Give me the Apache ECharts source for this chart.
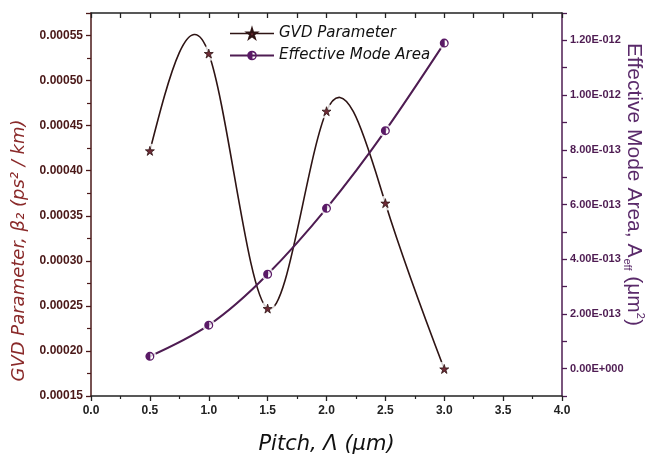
<!DOCTYPE html>
<html><head><meta charset="utf-8">
<script src="https://cdn.jsdelivr.net/npm/echarts@6/dist/echarts.min.js"></script>
<style>html,body{margin:0;padding:0;background:#fff;overflow:hidden;width:650px;height:455px}#c{width:650px;height:455px}</style>
</head><body><div id="c"></div>
<script>
const pitch = [0.5, 1.0, 1.5, 2.0, 2.5, 3.0];
const gvd = [0.000422, 0.000530, 0.000247, 0.000466, 0.000364, 0.000180];
const area = [4.5e-14, 1.59e-13, 3.45e-13, 5.86e-13, 8.70e-13, 1.19e-12];
const xTickLabels = ['0.0','0.5','1.0','1.5','2.0','2.5','3.0','3.5','4.0'];
const leftTickLabels = ['0.00015','0.00020','0.00025','0.00030','0.00035','0.00040','0.00045','0.00050','0.00055'];
const rightTickLabels = ['0.00E+000','2.00E-013','4.00E-013','6.00E-013','8.00E-013','1.00E-012','1.20E-012'];

const gvdData = pitch.map((p, i) => [p, gvd[i]]);
const areaData = pitch.map((p, i) => [p, area[i]]);

const STAR = 'path://M50,0 L61,35 L98,35 L68,57 L79,91 L50,70 L21,91 L32,57 L2,35 L39,35 Z';
const HALF = 'path://M10,0 A10,10 0 0,1 10,20 A10,10 0 0,1 10,0 Z M11,3 L11,17 A7.07,7.07 0 0,0 11,3 Z';

const maroon = '#4a1818', purple = '#4e1c52', gvdLine = '#2e1414';

// Natural cubic spline drawn as bezier segments between the library-projected data points
function splineRender(data, color, width) {
  return function (params, api) {
    if (params.dataIndex !== 0) return null;
    const P = data.map(d => api.coord(d));
    const n = P.length;
    const h = [], M = new Array(n).fill(0);
    for (let i = 0; i < n - 1; i++) h.push(P[i + 1][0] - P[i][0]);
    const a = [], b = [], c = [], d = [];
    for (let i = 1; i < n - 1; i++) {
      a.push(h[i - 1]); b.push(2 * (h[i - 1] + h[i])); c.push(h[i]);
      d.push(6 * ((P[i + 1][1] - P[i][1]) / h[i] - (P[i][1] - P[i - 1][1]) / h[i - 1]));
    }
    const m = b.length;
    for (let i = 1; i < m; i++) {
      const w = a[i] / b[i - 1];
      b[i] -= w * c[i - 1]; d[i] -= w * d[i - 1];
    }
    const sol = new Array(m);
    for (let i = m - 1; i >= 0; i--) sol[i] = (d[i] - (i < m - 1 ? c[i] * sol[i + 1] : 0)) / b[i];
    for (let i = 0; i < m; i++) M[i + 1] = sol[i];
    const children = [];
    for (let i = 0; i < n - 1; i++) {
      const hi = h[i];
      const dy = (P[i + 1][1] - P[i][1]) / hi;
      const s0 = dy - hi * (2 * M[i] + M[i + 1]) / 6;
      const s1 = dy + hi * (M[i] + 2 * M[i + 1]) / 6;
      children.push({
        type: 'bezierCurve',
        shape: {
          x1: P[i][0], y1: P[i][1], x2: P[i + 1][0], y2: P[i + 1][1],
          cpx1: P[i][0] + hi / 3, cpy1: P[i][1] + s0 * hi / 3,
          cpx2: P[i + 1][0] - hi / 3, cpy2: P[i + 1][1] - s1 * hi / 3
        },
        style: { stroke: color, lineWidth: width, fill: null }
      });
    }
    return { type: 'group', children: children };
  };
}

const chart = echarts.init(document.getElementById('c'));
chart.setOption({
  animation: false,
  grid: { left: 91, right: 88, top: 13, bottom: 59, outerBoundsMode: 'none', containLabel: false },
  legend: {
    orient: 'vertical', left: 224, top: 21, itemWidth: 44, itemHeight: 12, itemGap: 7,
    data: [
      { name: 'GVD Parameter', lineStyle: { color: gvdLine, width: 1.6, opacity: 1 } },
      { name: 'Effective Mode Area', lineStyle: { color: purple, width: 2, opacity: 1 } }
    ],
    textStyle: { fontFamily: 'DejaVu Sans', fontStyle: 'italic', fontSize: 15, color: '#111' }
  },
  xAxis: [{
    type: 'value', min: 0, max: 4, interval: 0.5, position: 'bottom',
    name: 'Pitch, Λ (μm)', nameLocation: 'middle', nameGap: 38,
    nameTextStyle: { fontFamily: 'DejaVu Sans', fontStyle: 'italic', fontSize: 21, color: '#111' },
    axisLine: { onZero: false, lineStyle: { color: '#222', width: 1.5 } },
    axisTick: { inside: false, length: 5, lineStyle: { color: '#222', width: 1.3 } },
    minorTick: { show: true, splitNumber: 2, length: 3, lineStyle: { color: '#222', width: 1.2 } },
    splitLine: { show: false },
    axisLabel: { margin: 9, fontFamily: 'Liberation Sans', fontWeight: 'bold', fontSize: 12, color: '#222',
      formatter: v => xTickLabels[Math.round(v / 0.5)] }
  }, {
    type: 'value', min: 0, max: 4, interval: 0.25, position: 'top',
    axisLine: { onZero: false, lineStyle: { color: '#222', width: 1.5 } },
    axisTick: { inside: true, length: 5, lineStyle: { color: '#222', width: 1.3 } },
    axisLabel: { show: false }, splitLine: { show: false }
  }],
  yAxis: [{
    type: 'value', min: 0.00015, max: 0.000575, interval: 0.00005, position: 'left',
    name: 'GVD Parameter, β₂ (ps² / km)', nameLocation: 'middle', nameGap: 58,
    nameTextStyle: { fontFamily: 'DejaVu Sans', fontStyle: 'italic', fontSize: 18, color: '#8a2a2a', padding: [0, 92, 0, 0] },
    axisLine: { onZero: false, lineStyle: { color: maroon, width: 1.5 } },
    axisTick: { length: 5, lineStyle: { color: maroon, width: 1.3 } },
    minorTick: { show: true, splitNumber: 2, length: 4, lineStyle: { color: maroon, width: 1.2 } },
    splitLine: { show: false },
    axisLabel: { margin: 8, fontFamily: 'Liberation Sans', fontWeight: 'bold', fontSize: 12, color: maroon,
      formatter: v => { const k = Math.round((v - 0.00015) / 0.00005); return leftTickLabels[k] || ''; } }
  }, {
    type: 'value', min: -1e-13, max: 1.3e-12, interval: 1e-13, position: 'right',
    name: '{a|Effective Mode Area, A}{s|eff}{a| (μm}{p|2}{a|)}', nameLocation: 'middle', nameGap: 60, nameRotate: -90,
    nameMoveOverlap: false,
    nameTextStyle: { padding: [0, 40, 0, 0], color: '#5a2a6a',
      rich: {
        a: { fontFamily: 'Liberation Sans', fontSize: 21, color: '#5a2a6a', lineHeight: 24 },
        s: { fontFamily: 'Liberation Sans', fontSize: 11, color: '#5a2a6a', verticalAlign: 'bottom', lineHeight: 24, padding: [9, 0, 0, 1] },
        p: { fontFamily: 'Liberation Sans', fontSize: 11, color: '#5a2a6a', verticalAlign: 'top', lineHeight: 24 }
      } },
    axisLine: { onZero: false, lineStyle: { color: purple, width: 1.5 } },
    axisTick: { length: 5, lineStyle: { color: purple, width: 1.3 } },
    splitLine: { show: false },
    axisLabel: { margin: 8, fontFamily: 'Liberation Sans', fontWeight: 'bold', fontSize: 11, color: purple,
      formatter: v => { const k = Math.round(v / 1e-13); if (k < 0 || k % 2) return ''; return rightTickLabels[k / 2] || ''; } }
  }],
  series: [{
    name: 'gvdCurve', type: 'custom', xAxisIndex: 0, yAxisIndex: 0, data: gvdData, z: 2, silent: true,
    renderItem: splineRender(gvdData, gvdLine, 1.6)
  }, {
    name: 'areaCurve', type: 'custom', xAxisIndex: 0, yAxisIndex: 1, data: areaData, z: 2, silent: true,
    renderItem: splineRender(areaData, purple, 2)
  }, {
    name: 'gvdGap', type: 'scatter', xAxisIndex: 0, yAxisIndex: 0, data: gvdData, z: 3, silent: true,
    symbol: 'circle', symbolSize: 15, itemStyle: { color: '#ffffff' }
  }, {
    name: 'areaGap', type: 'scatter', xAxisIndex: 0, yAxisIndex: 1, data: areaData, z: 3, silent: true,
    symbol: 'circle', symbolSize: 13, itemStyle: { color: '#ffffff' }
  }, {
    name: 'GVD Parameter', type: 'line', xAxisIndex: 0, yAxisIndex: 0, data: gvdData, z: 4,
    symbol: STAR, symbolSize: 9,
    lineStyle: { color: gvdLine, width: 1.6, opacity: 0 },
    itemStyle: { color: '#6e2a36', borderColor: '#2e1414', borderWidth: 0.8 }
  }, {
    name: 'Effective Mode Area', type: 'line', xAxisIndex: 0, yAxisIndex: 1, data: areaData, z: 4,
    symbol: HALF, symbolSize: 9,
    lineStyle: { color: purple, width: 2, opacity: 0 },
    itemStyle: { color: '#5a1a66' }
  }]
});
</script></body></html>
